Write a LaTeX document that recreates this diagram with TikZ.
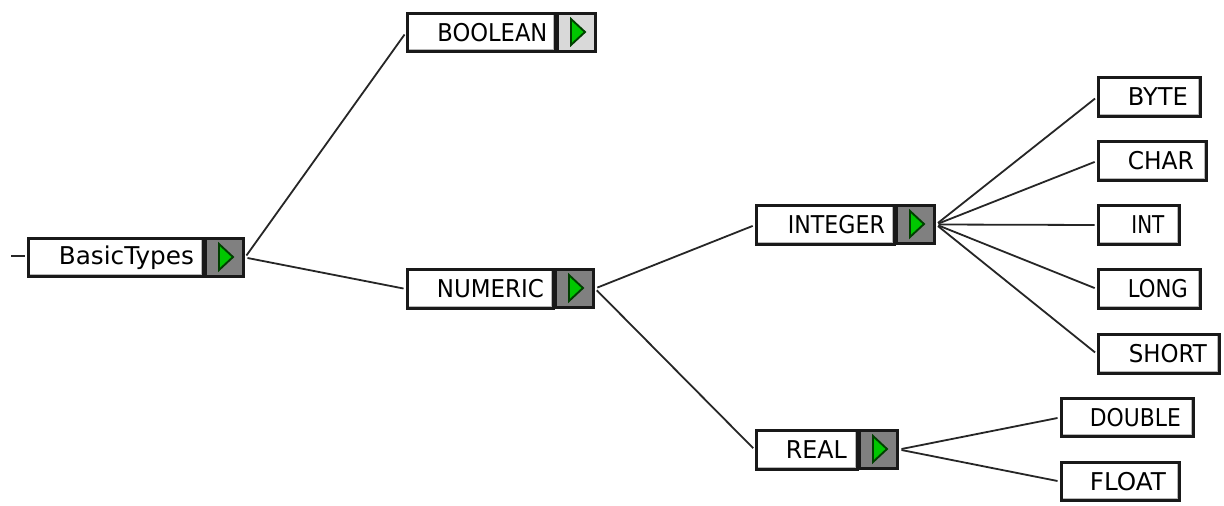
\documentclass[tikz,border=0pt]{standalone}
\usepackage{fontspec}
\usepackage{graphicx}
\setmainfont{DejaVu Sans}
\tikzset{x=1pt,y=-1pt,
 labelbox/.style={draw=black!90,line width=3.2pt,fill=white,rectangle,inner ysep=0pt,align=right,font=\fontsize{24.5}{26}\selectfont,anchor=center},
 btnbox/.style={draw=black!90,line width=3.2pt,rectangle,inner sep=0pt,anchor=center},
 btndark/.style={btnbox,fill=black!50},
 btnlight/.style={btnbox,fill=black!15},
 play/.style={fill=green!78!black,draw=black!75!green,line width=1.9pt,line join=miter},
 bevel/.style={draw=black!28,line width=1.6pt},
 link/.style={draw=black!85,line width=1.8pt,shorten >=2.5pt,shorten <=2.5pt}}
% name, x1, y1, x2, y2, pad, text width, text
\newcommand{\tagbox}[8]{%
 \pgfmathsetmacro{\boxw}{#4-#2-3.2}\pgfmathsetmacro{\boxh}{#5-#3-3.2}
 \pgfmathsetmacro{\txtw}{#4-#2-3.2-2*#6}
 \node[labelbox,inner xsep=#6pt,minimum width=\boxw pt,minimum height=\boxh pt,text width=\txtw pt] (#1) at ({(#2+#4)/2},{(#3+#5)/2}) {\resizebox{#7pt}{\height}{#8}};
 \draw[bevel] (#2+3,#5-3.6) -- (#4-3.6,#5-3.6) -- (#4-3.6,#3+3);
}
% name, x1, y1, size, style
\newcommand{\btn}[5]{%
 \pgfmathsetmacro{\btnw}{#4-3.2}
 \node[#5,minimum width=\btnw pt,minimum height=\btnw pt] (#1) at ({#2+#4/2},{#3+#4/2}) {};
 \draw[play] (#2+15,#3+7) -- (#2+29,#3+20) -- (#2+15,#3+33) -- cycle;
}
\begin{document}
\begin{tikzpicture}
\useasboundingbox (0,0) rectangle (1224,506);
\fill[white] (0,0) rectangle (1224,506);
\tagbox{basic}{27}{237}{205}{278}{9.5}{135}{BasicTypes}
\btn{basicbtn}{204}{237}{41}{btndark}
\tagbox{boolean}{406}{12}{557}{53}{8}{110}{BOOLEAN}
\btn{booleanbtn}{556}{12}{41}{btnlight}
\tagbox{numeric}{406}{268}{555}{310}{9.5}{107}{NUMERIC}
\btn{numericbtn}{554}{268}{41}{btndark}
\tagbox{integer}{755}{204}{896}{246}{9.5}{97}{INTEGER}
\btn{integerbtn}{895}{204}{41}{btndark}
\tagbox{real}{755}{429}{859}{471}{10.5}{61}{REAL}
\btn{realbtn}{858}{429}{41}{btndark}
\tagbox{byte}{1097}{76}{1202}{118}{12.5}{60}{BYTE}
\tagbox{char}{1097}{140}{1208}{182}{12.5}{66}{CHAR}
\tagbox{int}{1097}{204}{1181}{246}{15}{33}{INT}
\tagbox{long}{1097}{268}{1202}{310}{12.5}{60}{LONG}
\tagbox{short}{1097}{333}{1221}{375}{12.5}{78}{SHORT}
\tagbox{double}{1060}{397}{1195}{438}{12.5}{91}{DOUBLE}
\tagbox{float}{1060}{461}{1181}{502}{13.5}{76}{FLOAT}
\coordinate (stub) at (11,256);
\draw[link,shorten <=0pt] (stub) -- (stub -| basic.west);
\draw[link] (basicbtn.east) -- (boolean.west);
\draw[link] (basicbtn.east) -- (numeric.west);
\draw[link] (numericbtn.east) -- (integer.west);
\draw[link] (numericbtn.east) -- (real.west);
\foreach \c in {byte,char,int,long,short}
  \draw[link] (integerbtn.east) -- (\c.west);
\draw[link] (realbtn.east) -- (double.west);
\draw[link] (realbtn.east) -- (float.west);
\end{tikzpicture}
\end{document}
